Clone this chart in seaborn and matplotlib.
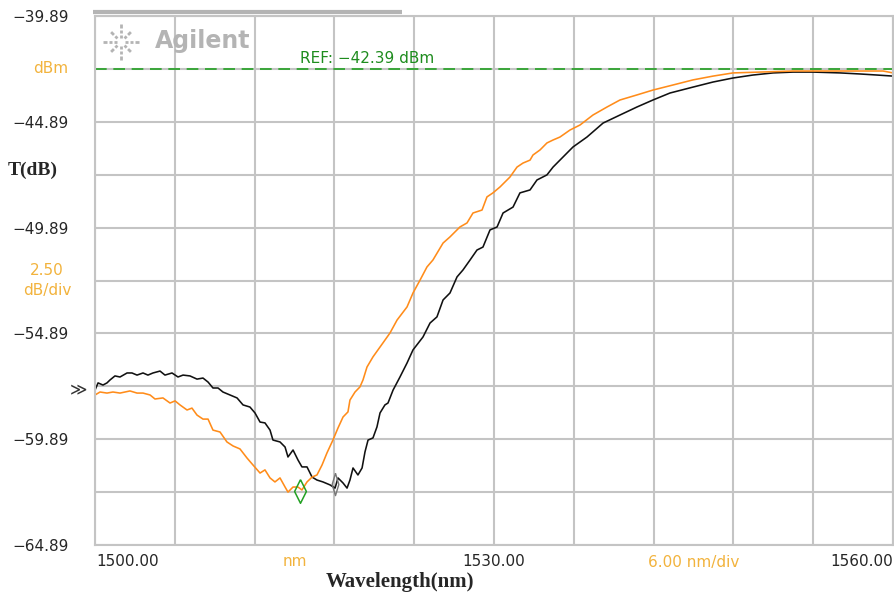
import numpy as np
import pandas as pd
import matplotlib.pyplot as plt
from matplotlib.path import Path
import seaborn as sns

# trace values (nm, dB)
wl_orange = [1500.00, 1500.38, 1500.90, 1501.35, 1501.88, 1502.63, 1503.16, 1503.61, 1504.14, 1504.51,
             1505.11, 1505.64, 1506.02, 1506.39, 1506.92, 1507.29, 1507.67, 1508.12, 1508.50, 1508.87,
             1509.40, 1509.92, 1510.38, 1510.90, 1511.43, 1511.88, 1512.41, 1512.78, 1513.16, 1513.53,
             1513.91, 1514.29, 1514.51, 1514.89, 1515.26, 1515.56, 1515.94, 1516.32, 1516.69, 1517.07,
             1517.44, 1517.89, 1518.27, 1518.65, 1519.02, 1519.17, 1519.55, 1519.92, 1520.15, 1520.45,
             1520.90, 1521.65, 1522.18, 1522.71, 1523.46, 1523.91, 1524.44, 1524.96, 1525.41, 1526.17,
             1526.69, 1527.44, 1527.97, 1528.42, 1529.10, 1529.47, 1529.92, 1530.45, 1531.20, 1531.73,
             1532.18, 1532.71, 1532.93, 1533.46, 1533.98, 1534.44, 1534.96, 1535.71, 1536.47, 1537.44,
             1538.50, 1539.47, 1540.75, 1541.95, 1543.46, 1544.96, 1546.47, 1547.97, 1550.00, 1552.48,
             1555.04, 1557.52, 1559.25, 1560.00]
t_orange = [-57.80, -57.66, -57.71, -57.66, -57.71, -57.61, -57.71, -57.71, -57.80, -57.99,
            -57.94, -58.18, -58.08, -58.27, -58.51, -58.42, -58.75, -58.94, -58.94, -59.46,
            -59.55, -60.02, -60.21, -60.35, -60.78, -61.11, -61.49, -61.34, -61.72, -61.91,
            -61.72, -62.15, -62.39, -62.15, -62.15, -62.29, -61.91, -61.68, -61.58, -61.11,
            -60.54, -59.93, -59.36, -58.84, -58.60, -58.04, -57.66, -57.42, -57.09, -56.48,
            -56.00, -55.34, -54.87, -54.26, -53.64, -52.98, -52.37, -51.75, -51.42, -50.62,
            -50.33, -49.86, -49.67, -49.20, -49.06, -48.44, -48.25, -47.97, -47.50, -47.03,
            -46.84, -46.70, -46.46, -46.22, -45.89, -45.75, -45.61, -45.28, -45.04, -44.57,
            -44.19, -43.86, -43.62, -43.39, -43.15, -42.91, -42.73, -42.58, -42.54, -42.49,
            -42.49, -42.49, -42.49, -42.58]

wl_black = [1500.00, 1500.23, 1500.60, 1500.90, 1501.13, 1501.50, 1501.88, 1502.41, 1502.78, 1503.16,
            1503.61, 1503.98, 1504.36, 1504.89, 1505.26, 1505.79, 1506.24, 1506.62, 1507.14, 1507.67,
            1508.12, 1508.50, 1508.87, 1509.25, 1509.62, 1510.15, 1510.68, 1511.13, 1511.65, 1512.03,
            1512.41, 1512.78, 1513.16, 1513.38, 1513.91, 1514.29, 1514.51, 1514.89, 1515.26, 1515.56,
            1515.94, 1516.32, 1516.69, 1517.14, 1517.67, 1518.05, 1518.27, 1518.65, 1518.95, 1519.17,
            1519.40, 1519.77, 1520.08, 1520.30, 1520.53, 1520.90, 1521.20, 1521.43, 1521.80, 1522.03,
            1522.41, 1522.93, 1523.46, 1523.91, 1524.66, 1525.19, 1525.71, 1526.17, 1526.69, 1527.22,
            1527.67, 1528.20, 1528.72, 1529.17, 1529.70, 1530.23, 1530.68, 1531.43, 1531.95, 1532.71,
            1533.23, 1533.98, 1534.44, 1534.96, 1535.94, 1536.99, 1538.20, 1539.47, 1540.75, 1541.95,
            1543.23, 1544.96, 1546.47, 1547.97, 1549.47, 1550.98, 1552.48, 1553.98, 1556.02, 1557.52,
            1558.80, 1560.00]
t_black = [-57.57, -57.23, -57.33, -57.23, -57.09, -56.90, -56.95, -56.76, -56.76, -56.86,
           -56.76, -56.86, -56.76, -56.67, -56.86, -56.76, -56.95, -56.86, -56.90, -57.05,
           -57.00, -57.19, -57.47, -57.47, -57.66, -57.80, -57.94, -58.27, -58.37, -58.65,
           -59.08, -59.12, -59.46, -59.93, -60.02, -60.26, -60.73, -60.40, -60.87, -61.20,
           -61.20, -61.68, -61.82, -61.91, -62.05, -62.20, -61.72, -61.96, -62.20, -61.82,
           -61.25, -61.58, -61.25, -60.49, -59.93, -59.83, -59.31, -58.65, -58.27, -58.18,
           -57.57, -56.95, -56.29, -55.67, -55.06, -54.40, -54.11, -53.31, -52.98, -52.22,
           -51.89, -51.42, -50.95, -50.81, -50.00, -49.86, -49.20, -48.92, -48.25, -48.11,
           -47.64, -47.40, -47.03, -46.70, -46.08, -45.61, -44.95, -44.57, -44.19, -43.86,
           -43.53, -43.25, -43.01, -42.82, -42.68, -42.58, -42.54, -42.54, -42.58, -42.63,
           -42.68, -42.73]

# markers
mk_green = (1515.41, -62.36)
mk_gray = (1518.05, -62.0)
ref_level = -42.39

y_ticks = [-39.89 - 2.5 * i for i in range(11)]
y_labels = ["\u221239.89", "", "\u221244.89", "", "\u221249.89", "",
            "\u221254.89", "", "\u221259.89", "", "\u221264.89"]
x_ticks = [1500 + 6 * i for i in range(11)]

df = pd.concat([
    pd.DataFrame({"wl": wl_black, "T": t_black, "trace": "B"}),
    pd.DataFrame({"wl": wl_orange, "T": t_orange, "trace": "A"}),
])

sns.set_style("white")
plt.rcParams['font.family'] = ['DejaVu Sans']

fig = plt.figure(figsize=(8.94, 5.95), dpi=100)
ax = fig.add_axes([95 / 894, 1 - 545 / 595, 798 / 894, 529 / 595])

sns.lineplot(data=df, x="wl", y="T", hue="trace", estimator=None, sort=False,
             palette={"A": "#ff8c1a", "B": "#111111"}, linewidth=1.15, legend=False, ax=ax)

ax.axhline(ref_level, color="#22a022", lw=1.2, dashes=(7, 4))

diamond = Path([(0, 1), (0.5, 0), (0, -1), (-0.5, 0), (0, 1)])
thin = Path([(0, 1), (0.3, 0), (0, -1), (-0.3, 0), (0, 1)])
ax.plot(*mk_green, marker=diamond, ms=17, mfc="none", mec="#22a022", mew=1.1)
ax.plot(*mk_gray, marker=thin, ms=16, mfc="none", mec="#777777", mew=1.0)

ax.set_xlim(1500, 1560)
ax.set_ylim(-64.89, -39.89)
ax.set_xticks(x_ticks)
ax.set_xticklabels([""] * len(x_ticks))
ax.set_yticks(y_ticks)
ax.set_yticklabels(y_labels, fontsize=11)
ax.tick_params(length=0, pad=19)
ax.grid(True, color="#c4c4c4", lw=1.5)
ax.set_axisbelow(True)
for s in ax.spines.values():
    s.set_color("#c4c4c4")
    s.set_linewidth(1.5)
ax.set_xlabel("")
ax.set_ylabel("")

orange_txt = "#f2b33d"
ax.text(-27 / 798, ref_level, "dBm", transform=ax.get_yaxis_transform(),
        ha="right", va="center", color=orange_txt, fontsize=11)
ax.text(-24 / 798, -52.39, "2.50\ndB/div", transform=ax.get_yaxis_transform(),
        ha="right", va="center", ma="center", color=orange_txt, fontsize=11, linespacing=1.45)
ax.text(-87 / 798, -47.2, "T(dB)", transform=ax.get_yaxis_transform(),
        ha="left", va="center", fontsize=14, fontweight="bold", family="Liberation Serif")
ax.text(-17 / 798, -57.52, "\u226b", transform=ax.get_yaxis_transform(),
        ha="center", va="center", fontsize=12, color="#333333")

xt = ax.get_xaxis_transform()
ax.text(1500.1, -17 / 529, "1500.00", transform=xt, ha="left", va="center", fontsize=11)
ax.text(1515, -17 / 529, "nm", transform=xt, ha="center", va="center", fontsize=11, color=orange_txt)
ax.text(1530, -17 / 529, "1530.00", transform=xt, ha="center", va="center", fontsize=11)
ax.text(1545, -17 / 529, "6.00 nm/div", transform=xt, ha="center", va="center", fontsize=11, color=orange_txt)
ax.text(1560, -17 / 529, "1560.00", transform=xt, ha="right", va="center", fontsize=11)
ax.text(1522.9, -37 / 529, "Wavelength(nm)", transform=xt, ha="center", va="center",
        fontsize=15, fontweight="bold", family="Liberation Serif")

ax.text(1515.4, ref_level + 0.15, "REF: \u221242.39 dBm", color="#1e8c1e", fontsize=11,
        ha="left", va="bottom")

# top bar and logo
ax.plot([-2 / 798, 307 / 798], [1 + 4 / 529, 1 + 4 / 529], transform=ax.transAxes,
        color="#b4b4b4", lw=3, clip_on=False, solid_capstyle="butt")
ax.text(108 / 798, 1 - 25 / 529, "Agilent", transform=ax.transAxes, ha="center", va="center",
        fontsize=17, fontweight="bold", color="#b4b4b4")
cx, cy = 26 / 798, 1 - 26 / 529
for a in np.arange(0, 360, 45):
    r = np.deg2rad(a)
    segs = [(4, 7), (9, 12), (14, 18)] if a % 90 == 0 else [(5, 8), (10, 14)]
    for r0, r1 in segs:
        ax.plot([cx + r0 * np.cos(r) / 798, cx + r1 * np.cos(r) / 798],
                [cy + r0 * np.sin(r) / 529, cy + r1 * np.sin(r) / 529],
                transform=ax.transAxes, color="#b4b4b4", lw=2, clip_on=False,
                solid_capstyle="butt")

fig.savefig("out.png", dpi=100)
